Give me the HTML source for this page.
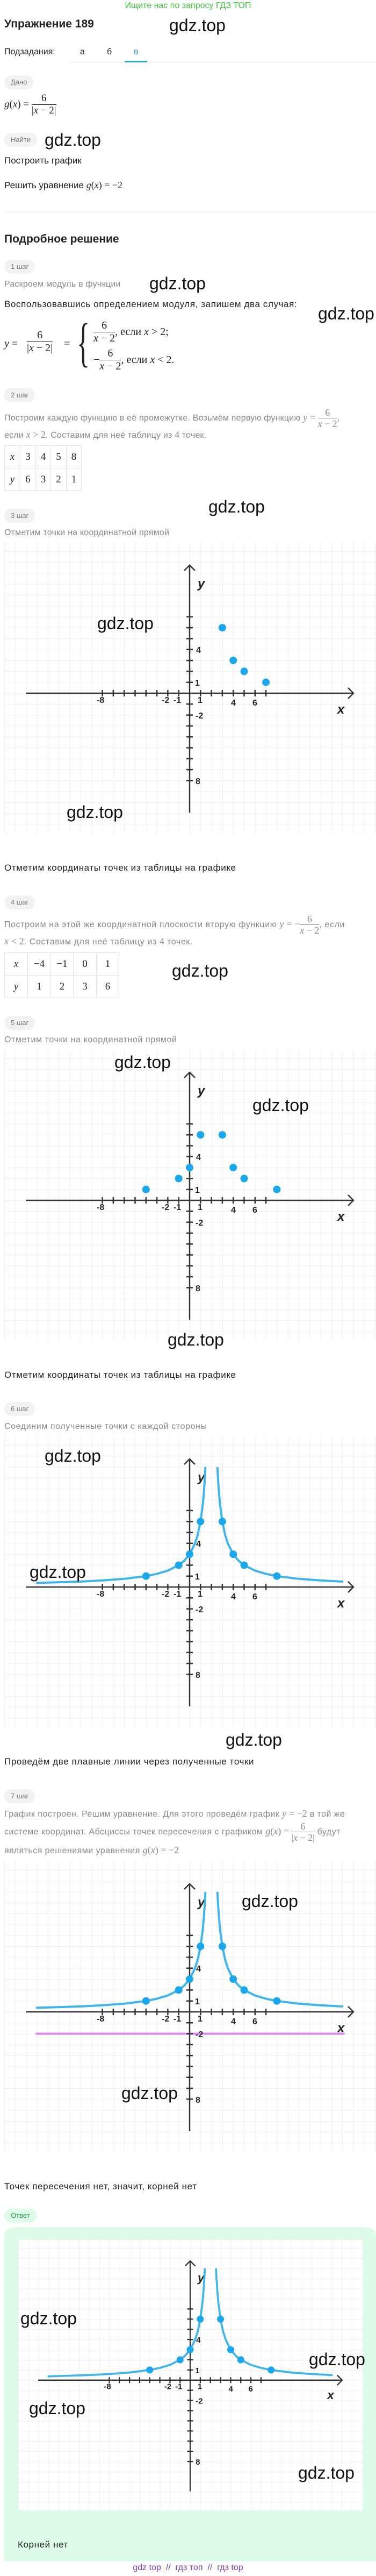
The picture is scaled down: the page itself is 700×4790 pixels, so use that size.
<!DOCTYPE html>
<html><head><meta charset="utf-8">
<style>
*{margin:0;padding:0;box-sizing:border-box}
body{width:700px;height:4790px;position:relative;background:#fff;font-family:"Liberation Sans",Arial,sans-serif;color:#222;overflow:hidden}
.a{position:absolute;white-space:nowrap}
.t{font-size:17px;line-height:20px;letter-spacing:0.6px}
.g{color:#888;font-size:16px;letter-spacing:0.2px}
.g2{color:#888;font-size:16px;letter-spacing:0.6px}
.wm{position:absolute;font-size:32px;line-height:36px;color:#111;z-index:5;white-space:nowrap;letter-spacing:0}
.badge{position:absolute;left:8px;height:26px;border-radius:13px;background:#f2f2f2;color:#777;font-size:13px;line-height:26px;padding:0 12px}
.m{font-family:"Liberation Serif",serif;font-style:italic;font-size:18px;letter-spacing:0}
.r{font-family:"Liberation Serif",serif;font-style:normal;font-size:18px;letter-spacing:0}
.fr{display:inline-block;vertical-align:middle;text-align:center;font-family:"Liberation Serif",serif;letter-spacing:0}
.fr span{display:block;line-height:1.15}
.fr .n{border-bottom:1px solid currentColor;padding:0 3px}
table{border-collapse:collapse;position:absolute;left:8px;font-family:"Liberation Serif",serif;font-size:19px}
td{border:1px solid #e3e3e3;height:42px;text-align:center}
svg.ch{position:absolute;left:8px}
svg text{font-family:"Liberation Sans",Arial,sans-serif;font-weight:bold;font-size:16px;fill:#222}
</style></head><body>

<div class="a" style="left:0;width:700px;text-align:center;top:1px;font-size:16px;line-height:20px;color:#3cc83c">Ищите нас по запросу ГДЗ ТОП</div>
<div class="a" style="left:8px;top:32px;font-size:21px;line-height:26px;font-weight:bold">Упражнение 189</div>

<div class="a" style="left:8px;top:87px;font-size:16px;line-height:20px">Подзадания:</div>
<div class="a" style="left:149px;top:87px;font-size:16px;line-height:20px">а</div>
<div class="a" style="left:199px;top:87px;font-size:16px;line-height:20px">б</div>
<div class="a" style="left:249px;top:87px;font-size:16px;line-height:20px;color:#2a9fd6">в</div>
<div class="a" style="left:132px;top:115px;width:568px;height:1px;background:#e5e5e5"></div>
<div class="a" style="left:232px;top:113px;width:42px;height:3px;background:#2a9fd6"></div>

<div class="badge" style="top:140px">Дано</div>
<div class="a" style="left:8px;top:172px;font-size:19px;color:#222"><span class="m" style="font-size:19px">g</span><span class="r" style="font-size:19px">(</span><span class="m" style="font-size:19px">x</span><span class="r" style="font-size:19px">) = </span><span class="fr"><span class="n">6</span><span>|<i>x</i> − 2|</span></span></div>
<div class="badge" style="top:247px">Найти</div>
<div class="a" style="left:8px;top:289px;font-size:17px;line-height:20px">Построить график</div>
<div class="a" style="left:8px;top:334px;font-size:17px;line-height:20px">Решить уравнение <span class="m">g</span><span class="r">(</span><span class="m">x</span><span class="r">) = −2</span></div>
<div class="a" style="left:8px;top:394px;width:692px;height:1px;background:#eee"></div>

<div class="a" style="left:8px;top:432px;font-size:21px;line-height:26px;font-weight:bold">Подробное решение</div>
<div class="badge" style="top:483px">1 шаг</div>
<div class="a t g" style="left:8px;top:519px">Раскроем модуль в функции</div>
<div class="a t" style="left:8px;top:556px">Воспользовавшись определением модуля, запишем два случая:</div>

<!-- piecewise -->
<div class="a" style="left:8px;top:628px;font-size:20px;font-family:'Liberation Serif',serif"><i>y</i> =</div>
<div class="a" style="left:50px;top:612px;font-size:20px"><span class="fr"><span class="n">6</span><span>|<i>x</i> − 2|</span></span></div>
<div class="a" style="left:119px;top:628px;font-size:20px;font-family:'Liberation Serif',serif">=</div>
<div class="a" style="left:143px;top:582px;font-size:100px;line-height:110px;font-family:'Liberation Serif',serif;font-weight:100;transform:scaleX(0.5);transform-origin:left">{</div>
<div class="a" style="left:174px;top:594px;font-size:20px"><span class="fr"><span class="n">6</span><span><i>x</i> − 2</span></span><span class="r" style="font-size:20px">, если </span><span class="m" style="font-size:20px">x</span><span class="r" style="font-size:20px"> &gt; 2;</span></div>
<div class="a" style="left:174px;top:646px;font-size:20px"><span class="r" style="font-size:20px">−</span><span class="fr"><span class="n">6</span><span><i>x</i> − 2</span></span><span class="r" style="font-size:20px">, если </span><span class="m" style="font-size:20px">x</span><span class="r" style="font-size:20px"> &lt; 2.</span></div>

<div class="badge" style="top:722px">2 шаг</div>
<div class="a t g" style="left:8px;top:754px;line-height:44px">Построим каждую функцию в её промежутке. Возьмём первую функцию <span class="m">y</span> <span class="r">=</span> <span class="fr" style="font-size:18px"><span class="n">6</span><span><i>x</i> − 2</span></span>,</div>
<div class="a t g" style="left:8px;top:798px">если <span class="m">x</span> <span class="r">&gt; 2</span>. Составим для неё таблицу из <span class="r">4</span> точек.</div>
<table style="top:828px"><tr><td style="width:29px"><i>x</i></td><td style="width:29px">3</td><td style="width:28px">4</td><td style="width:29px">5</td><td style="width:28px">8</td></tr><tr><td><i>y</i></td><td>6</td><td>3</td><td>2</td><td>1</td></tr></table>

<div class="badge" style="top:946px">3 шаг</div>
<div class="a t g" style="left:8px;top:981px">Отметим точки на координатной прямой</div>

<!-- CHART 1 -->
<svg class="ch" style="top:1009px" width="692" height="540" viewBox="0 0 692 540">
<defs><pattern id="p1" patternUnits="userSpaceOnUse" x="0" y="16.1" width="20.3" height="20.3"><path d="M0 0H20.3M0 0V20.3" stroke="#e6e6e6" stroke-width="1.3" fill="none"/></pattern></defs>
<rect width="692" height="540" fill="url(#p1)"/>
<path d="M40 280H650M640 270L650 280L640 290M345 502V42M335 52L345 42L355 52" stroke="#333" stroke-width="2.5" fill="none"/>
<path d="M182.6 274v12M202.9 274v12M223.2 274v12M243.5 274v12M263.8 274v12M284.1 274v12M304.4 274v12M324.7 274v12M365.3 274v12M385.6 274v12M405.9 274v12M426.2 274v12M446.5 274v12M466.8 274v12M487.1 274v12M339 137.9h12M339 158.2h12M339 178.5h12M339 198.8h12M339 219.1h12M339 239.4h12M339 259.7h12M339 300.3h12M339 320.6h12M339 340.9h12M339 361.2h12M339 381.5h12M339 401.8h12M339 422.1h12M339 442.4h12" stroke="#333" stroke-width="2.5"/>
<text x="172" y="298">-8</text><text x="293" y="298">-2</text><text x="315" y="298">-1</text><text x="360" y="298">1</text><text x="422" y="303">4</text><text x="462" y="303">6</text><text x="357" y="205">4</text><text x="355" y="266">1</text><text x="356" y="327">-2</text><text x="356" y="449">8</text>
<text x="620" y="318" style="font-size:24px;font-style:italic">x</text><text x="360" y="84" style="font-size:24px;font-style:italic">y</text>
<g fill="#1aa7ec"><circle cx="405.9" cy="158.2" r="7"/><circle cx="426.2" cy="219.1" r="7"/><circle cx="446.5" cy="239.4" r="7"/><circle cx="487.1" cy="259.7" r="7"/></g>
</svg>

<div class="a t" style="left:8px;top:1604px">Отметим координаты точек из таблицы на графике</div>
<div class="badge" style="top:1665px">4 шаг</div>
<div class="a t g2" style="left:8px;top:1696px;line-height:44px">Построим на этой же координатной плоскости вторую функцию <span class="m">y</span> <span class="r">= −</span><span class="fr" style="font-size:18px"><span class="n">6</span><span><i>x</i> − 2</span></span>, если</div>
<div class="a t g2" style="left:8px;top:1740px"><span class="m">x</span> <span class="r">&lt; 2</span>. Составим для неё таблицу из <span class="r">4</span> точек.</div>
<table style="top:1771px"><tr><td style="width:43px"><i>x</i></td><td style="width:43px">−4</td><td style="width:42px">−1</td><td style="width:43px">0</td><td style="width:42px">1</td></tr><tr><td><i>y</i></td><td>1</td><td>2</td><td>3</td><td>6</td></tr></table>

<div class="badge" style="top:1889px">5 шаг</div>
<div class="a t g2" style="left:8px;top:1924px">Отметим точки на координатной прямой</div>

<!-- CHART 2 -->
<svg class="ch" style="top:1952px" width="692" height="540" viewBox="0 0 692 540">
<defs><pattern id="p2" patternUnits="userSpaceOnUse" x="0" y="16.1" width="20.3" height="20.3"><path d="M0 0H20.3M0 0V20.3" stroke="#e6e6e6" stroke-width="1.3" fill="none"/></pattern></defs>
<rect width="692" height="540" fill="url(#p2)"/>
<path d="M40 280H650M640 270L650 280L640 290M345 502V42M335 52L345 42L355 52" stroke="#333" stroke-width="2.5" fill="none"/>
<path d="M182.6 274v12M202.9 274v12M223.2 274v12M243.5 274v12M263.8 274v12M284.1 274v12M304.4 274v12M324.7 274v12M365.3 274v12M385.6 274v12M405.9 274v12M426.2 274v12M446.5 274v12M466.8 274v12M487.1 274v12M339 137.9h12M339 158.2h12M339 178.5h12M339 198.8h12M339 219.1h12M339 239.4h12M339 259.7h12M339 300.3h12M339 320.6h12M339 340.9h12M339 361.2h12M339 381.5h12M339 401.8h12M339 422.1h12M339 442.4h12" stroke="#333" stroke-width="2.5"/>
<text x="172" y="298">-8</text><text x="293" y="298">-2</text><text x="315" y="298">-1</text><text x="360" y="298">1</text><text x="422" y="303">4</text><text x="462" y="303">6</text><text x="357" y="205">4</text><text x="355" y="266">1</text><text x="356" y="327">-2</text><text x="356" y="449">8</text>
<text x="620" y="318" style="font-size:24px;font-style:italic">x</text><text x="360" y="84" style="font-size:24px;font-style:italic">y</text>
<g fill="#1aa7ec"><circle cx="405.9" cy="158.2" r="7"/><circle cx="426.2" cy="219.1" r="7"/><circle cx="446.5" cy="239.4" r="7"/><circle cx="507.4" cy="259.7" r="7"/><circle cx="263.8" cy="259.7" r="7"/><circle cx="324.7" cy="239.4" r="7"/><circle cx="345" cy="219.1" r="7"/><circle cx="365.3" cy="158.2" r="7"/></g>
</svg>

<div class="a t" style="left:8px;top:2547px">Отметим координаты точек из таблицы на графике</div>
<div class="badge" style="top:2607px">6 шаг</div>
<div class="a t g2" style="left:8px;top:2643px">Соединим полученные точки с каждой стороны</div>

<!-- CHART 3 -->
<svg class="ch" style="top:2671px" width="692" height="540" viewBox="0 0 692 540">
<defs><pattern id="p3" patternUnits="userSpaceOnUse" x="0" y="16.1" width="20.3" height="20.3"><path d="M0 0H20.3M0 0V20.3" stroke="#e6e6e6" stroke-width="1.3" fill="none"/></pattern></defs>
<rect width="692" height="540" fill="url(#p3)"/>
<path d="M40 280H650M640 270L650 280L640 290M345 502V42M335 52L345 42L355 52" stroke="#333" stroke-width="2.5" fill="none"/>
<path d="M182.6 274v12M202.9 274v12M223.2 274v12M243.5 274v12M263.8 274v12M284.1 274v12M304.4 274v12M324.7 274v12M365.3 274v12M385.6 274v12M405.9 274v12M426.2 274v12M446.5 274v12M466.8 274v12M487.1 274v12M339 137.9h12M339 158.2h12M339 178.5h12M339 198.8h12M339 219.1h12M339 239.4h12M339 259.7h12M339 300.3h12M339 320.6h12M339 340.9h12M339 361.2h12M339 381.5h12M339 401.8h12M339 422.1h12M339 442.4h12" stroke="#333" stroke-width="2.5"/>
<text x="172" y="298">-8</text><text x="293" y="298">-2</text><text x="315" y="298">-1</text><text x="360" y="298">1</text><text x="422" y="303">4</text><text x="462" y="303">6</text><text x="357" y="205">4</text><text x="355" y="266">1</text><text x="356" y="327">-2</text><text x="356" y="449">8</text>
<text x="620" y="318" style="font-size:24px;font-style:italic">x</text><text x="360" y="84" style="font-size:24px;font-style:italic">y</text>
<g fill="none" stroke="#3db5ee" stroke-width="4" stroke-linecap="round"><polyline points="396.8,58.5 397.8,77 399.8,106 401.8,127.8 405.9,158.2 411,182.6 416.1,198.8 426.2,219.1 436.4,231.3 446.5,239.4 466.8,249.5 487.1,255.6 507.4,259.7 548,264.8 588.6,267.8 629.2,269.9"/><polyline points="60.8,272.4 142,269.9 182.6,267.8 223.2,264.8 263.8,259.7 284.1,255.6 304.4,249.5 324.7,239.4 334.8,231.3 345,219.1 355.1,198.8 360.2,182.6 365.3,158.2 369.4,127.8 371.4,106 373.4,77 374.4,58.5"/></g>
<g fill="#1aa7ec"><circle cx="405.9" cy="158.2" r="7"/><circle cx="426.2" cy="219.1" r="7"/><circle cx="446.5" cy="239.4" r="7"/><circle cx="507.4" cy="259.7" r="7"/><circle cx="263.8" cy="259.7" r="7"/><circle cx="324.7" cy="239.4" r="7"/><circle cx="345" cy="219.1" r="7"/><circle cx="365.3" cy="158.2" r="7"/></g>
</svg>

<div class="a t" style="left:8px;top:3266px">Проведём две плавные линии через полученные точки</div>
<div class="badge" style="top:3327px">7 шаг</div>
<div class="a t g" style="left:8px;top:3362px;letter-spacing:0.45px">График построен. Решим уравнение. Для этого проведём график <span class="m">y</span> <span class="r">= −2</span> в той же</div>
<div class="a t g" style="left:8px;top:3383px;line-height:44px;letter-spacing:0.45px">системе координат. Абсциссы точек пересечения с графиком <span class="m">g</span><span class="r">(</span><span class="m">x</span><span class="r">) = </span><span class="fr" style="font-size:18px"><span class="n">6</span><span>|<i>x</i> − 2|</span></span> будут</div>
<div class="a t g" style="left:8px;top:3430px;letter-spacing:0.45px">являться решениями уравнения <span class="m">g</span><span class="r">(</span><span class="m">x</span><span class="r">) = −2</span></div>

<!-- CHART 4 -->
<svg class="ch" style="top:3461px" width="692" height="540" viewBox="0 0 692 540">
<defs><pattern id="p4" patternUnits="userSpaceOnUse" x="0" y="16.1" width="20.3" height="20.3"><path d="M0 0H20.3M0 0V20.3" stroke="#e6e6e6" stroke-width="1.3" fill="none"/></pattern></defs>
<rect width="692" height="540" fill="url(#p4)"/>
<line x1="60" y1="320.6" x2="632" y2="320.6" stroke="#dd88ee" stroke-width="4" stroke-linecap="round"/>
<path d="M40 280H650M640 270L650 280L640 290M345 502V42M335 52L345 42L355 52" stroke="#333" stroke-width="2.5" fill="none"/>
<path d="M182.6 274v12M202.9 274v12M223.2 274v12M243.5 274v12M263.8 274v12M284.1 274v12M304.4 274v12M324.7 274v12M365.3 274v12M385.6 274v12M405.9 274v12M426.2 274v12M446.5 274v12M466.8 274v12M487.1 274v12M339 137.9h12M339 158.2h12M339 178.5h12M339 198.8h12M339 219.1h12M339 239.4h12M339 259.7h12M339 300.3h12M339 320.6h12M339 340.9h12M339 361.2h12M339 381.5h12M339 401.8h12M339 422.1h12M339 442.4h12" stroke="#333" stroke-width="2.5"/>
<text x="172" y="298">-8</text><text x="293" y="298">-2</text><text x="315" y="298">-1</text><text x="360" y="298">1</text><text x="422" y="303">4</text><text x="462" y="303">6</text><text x="357" y="205">4</text><text x="355" y="266">1</text><text x="356" y="327">-2</text><text x="356" y="449">8</text>
<text x="620" y="318" style="font-size:24px;font-style:italic">x</text><text x="360" y="84" style="font-size:24px;font-style:italic">y</text>
<g fill="none" stroke="#3db5ee" stroke-width="4" stroke-linecap="round"><polyline points="396.8,58.5 397.8,77 399.8,106 401.8,127.8 405.9,158.2 411,182.6 416.1,198.8 426.2,219.1 436.4,231.3 446.5,239.4 466.8,249.5 487.1,255.6 507.4,259.7 548,264.8 588.6,267.8 629.2,269.9"/><polyline points="60.8,272.4 142,269.9 182.6,267.8 223.2,264.8 263.8,259.7 284.1,255.6 304.4,249.5 324.7,239.4 334.8,231.3 345,219.1 355.1,198.8 360.2,182.6 365.3,158.2 369.4,127.8 371.4,106 373.4,77 374.4,58.5"/></g>
<g fill="#1aa7ec"><circle cx="405.9" cy="158.2" r="7"/><circle cx="426.2" cy="219.1" r="7"/><circle cx="446.5" cy="239.4" r="7"/><circle cx="507.4" cy="259.7" r="7"/><circle cx="263.8" cy="259.7" r="7"/><circle cx="324.7" cy="239.4" r="7"/><circle cx="345" cy="219.1" r="7"/><circle cx="365.3" cy="158.2" r="7"/></g>
</svg>

<div class="a t" style="left:8px;top:4056px">Точек пересечения нет, значит, корней нет</div>
<div class="badge" style="top:4107px;background:#dcfce9;color:#2a9d4a">Ответ</div>
<div class="a" style="left:8px;top:4142px;width:692px;height:620px;background:#dcfce9;border-radius:16px 16px 0 0"></div>

<!-- CHART 5 -->
<svg class="ch" style="top:4165px;left:34px" width="642" height="503" viewBox="0 0 692 540" preserveAspectRatio="none">
<defs><pattern id="p5" patternUnits="userSpaceOnUse" x="0" y="16.1" width="20.3" height="20.3"><path d="M0 0H20.3M0 0V20.3" stroke="#e6e6e6" stroke-width="1.3" fill="none"/></pattern></defs>
<rect width="692" height="540" fill="#fff"/>
<rect width="692" height="540" fill="url(#p5)"/>
<path d="M40 280H650M640 270L650 280L640 290M345 502V42M335 52L345 42L355 52" stroke="#333" stroke-width="2.5" fill="none"/>
<path d="M182.6 274v12M202.9 274v12M223.2 274v12M243.5 274v12M263.8 274v12M284.1 274v12M304.4 274v12M324.7 274v12M365.3 274v12M385.6 274v12M405.9 274v12M426.2 274v12M446.5 274v12M466.8 274v12M487.1 274v12M339 137.9h12M339 158.2h12M339 178.5h12M339 198.8h12M339 219.1h12M339 239.4h12M339 259.7h12M339 300.3h12M339 320.6h12M339 340.9h12M339 361.2h12M339 381.5h12M339 401.8h12M339 422.1h12M339 442.4h12" stroke="#333" stroke-width="2.5"/>
<text x="172" y="298">-8</text><text x="293" y="298">-2</text><text x="315" y="298">-1</text><text x="360" y="298">1</text><text x="422" y="303">4</text><text x="462" y="303">6</text><text x="357" y="205">4</text><text x="355" y="266">1</text><text x="356" y="327">-2</text><text x="356" y="449">8</text>
<text x="620" y="318" style="font-size:24px;font-style:italic">x</text><text x="360" y="84" style="font-size:24px;font-style:italic">y</text>
<g fill="none" stroke="#3db5ee" stroke-width="4" stroke-linecap="round"><polyline points="396.8,58.5 397.8,77 399.8,106 401.8,127.8 405.9,158.2 411,182.6 416.1,198.8 426.2,219.1 436.4,231.3 446.5,239.4 466.8,249.5 487.1,255.6 507.4,259.7 548,264.8 588.6,267.8 629.2,269.9"/><polyline points="60.8,272.4 142,269.9 182.6,267.8 223.2,264.8 263.8,259.7 284.1,255.6 304.4,249.5 324.7,239.4 334.8,231.3 345,219.1 355.1,198.8 360.2,182.6 365.3,158.2 369.4,127.8 371.4,106 373.4,77 374.4,58.5"/></g>
<g fill="#1aa7ec"><circle cx="405.9" cy="158.2" r="7"/><circle cx="426.2" cy="219.1" r="7"/><circle cx="446.5" cy="239.4" r="7"/><circle cx="507.4" cy="259.7" r="7"/><circle cx="263.8" cy="259.7" r="7"/><circle cx="324.7" cy="239.4" r="7"/><circle cx="345" cy="219.1" r="7"/><circle cx="365.3" cy="158.2" r="7"/></g>
</svg>

<div class="a t" style="left:33px;top:4722px">Корней нет</div>
<div class="a" style="left:0;width:700px;text-align:center;top:4765px;font-size:16px;line-height:20px;color:#7a3fb0">gdz top &nbsp;//&nbsp; гдз топ &nbsp;//&nbsp; гдз top</div>

<!-- watermarks -->
<div class="wm" style="left:315px;top:29px">gdz.top</div>
<div class="wm" style="left:83px;top:242px">gdz.top</div>
<div class="wm" style="left:278px;top:509px">gdz.top</div>
<div class="wm" style="left:592px;top:565px">gdz.top</div>
<div class="wm" style="left:388px;top:924px">gdz.top</div>
<div class="wm" style="left:181px;top:1141px">gdz.top</div>
<div class="wm" style="left:124px;top:1492px">gdz.top</div>
<div class="wm" style="left:320px;top:1787px">gdz.top</div>
<div class="wm" style="left:213px;top:1957px">gdz.top</div>
<div class="wm" style="left:470px;top:2037px">gdz.top</div>
<div class="wm" style="left:312px;top:2473px">gdz.top</div>
<div class="wm" style="left:83px;top:2689px">gdz.top</div>
<div class="wm" style="left:55px;top:2905px">gdz.top</div>
<div class="wm" style="left:420px;top:3217px">gdz.top</div>
<div class="wm" style="left:450px;top:3517px">gdz.top</div>
<div class="wm" style="left:226px;top:3874px">gdz.top</div>
<div class="wm" style="left:38px;top:4293px">gdz.top</div>
<div class="wm" style="left:575px;top:4369px">gdz.top</div>
<div class="wm" style="left:54px;top:4460px">gdz.top</div>
<div class="wm" style="left:555px;top:4580px">gdz.top</div>
</body></html>
